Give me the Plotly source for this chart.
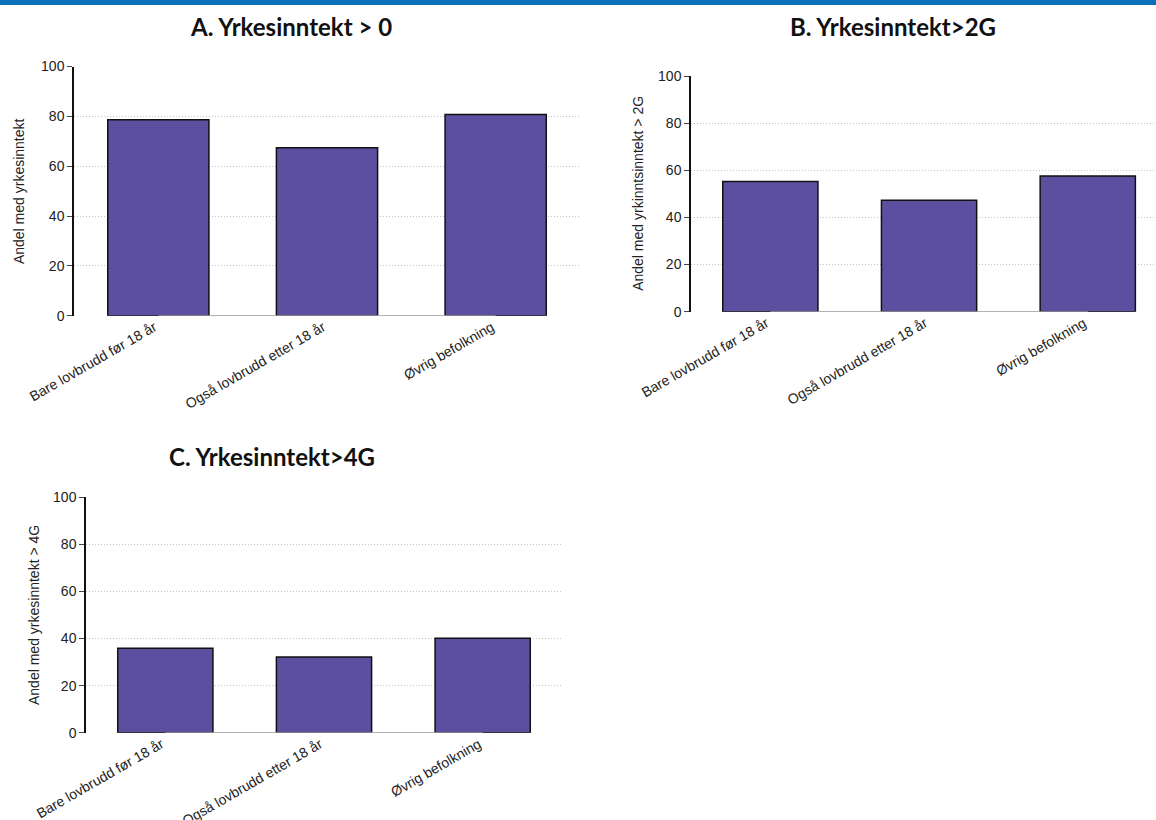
import plotly.graph_objects as go

categories = ["Bare lovbrudd før 18 år", "Også lovbrudd etter 18 år", "Øvrig befolkning"]
values_a = [78.6, 67.4, 80.7]
values_b = [55.2, 47.3, 57.6]
values_c = [35.9, 32.2, 40.1]
titles = ["A. Yrkesinntekt > 0", "B. Yrkesinntekt>2G", "C. Yrkesinntekt>4G"]
ytitles = ["Andel med yrkesinntekt", "Andel med yrkinntsinntekt > 2G", "Andel med yrkesinntekt > 4G"]
yticks = [0, 20, 40, 60, 80, 100]

W, H = 1156, 820
BAR = "#5c4f9f"
TICKFONT = dict(family="Liberation Sans, Arial, sans-serif", size=14, color="#222")
XTICKFONT = dict(family="Liberation Sans, Arial, sans-serif", size=14, color="#222")

def px2x(px):
    return px / W

def px2y(py):
    return 1 - py / H

panels = [
    # (values, xdomain px, ydomain px (top,bottom), xrange end, title center px, title y px, ytitle x px)
    (values_a, (74, 580), (66.5, 315.7), 2.5, 291, 26, 19),
    (values_b, (691, 1156), (76, 311.7), 2.43, 893, 26, 638),
    (values_c, (86, 562), (497.3, 732.7), 2.5, 272, 456, 34),
]

fig = go.Figure()
shapes = []
annotations = []
for i, (vals, (xl, xr), (yt, yb), xend, tcx, ty, ytx) in enumerate(panels):
    n = "" if i == 0 else str(i + 1)
    fig.add_trace(go.Bar(
        x=categories, y=vals, xaxis="x" + n, yaxis="y" + n,
        marker=dict(color=BAR, line=dict(color="#111", width=1.5)),
        width=0.6, showlegend=False, hoverinfo="x+y",
    ))
    fig.update_layout(**{
        "xaxis" + n: dict(
            domain=[px2x(xl), px2x(xr)], anchor="y" + n, range=[-0.5, xend],
            showgrid=False, showline=False, zeroline=False, ticks="",
            tickangle=-30, tickfont=XTICKFONT, fixedrange=True, automargin=False,
            ticklabelshift=-4,
        ),
        "yaxis" + n: dict(
            domain=[px2y(yb), px2y(yt)], anchor="x" + n, range=[0, 100],
            tickvals=yticks, showgrid=True, gridcolor="#c4c4c4", griddash="1px,2px", gridwidth=1,
            showline=True, linecolor="#111", linewidth=1.5, ticks="outside", ticklen=5,
            tickcolor="#444", tickfont=TICKFONT, zeroline=False, fixedrange=True, automargin=False,
        ),
    })
    # grey baseline between first and last category centres
    shapes.append(dict(type="line", xref="x" + n, yref="y" + n, x0=0, x1=2, y0=0, y1=0,
                       line=dict(color="#999", width=1.5), layer="above"))
    annotations.append(dict(text="<b>" + titles[i] + "</b>", x=px2x(tcx), y=px2y(ty), xref="paper", yref="paper",
                            showarrow=False, xanchor="center", yanchor="middle",
                            font=dict(family="Lato, Open Sans, sans-serif", size=24, color="#111")))
    annotations.append(dict(text=ytitles[i], x=px2x(ytx), y=px2y((yt + yb) / 2), xref="paper", yref="paper",
                            showarrow=False, xanchor="center", yanchor="middle", textangle=-90,
                            font=dict(family="Liberation Sans, Arial, sans-serif", size=14, color="#222")))

shapes.append(dict(type="rect", xref="paper", yref="paper", x0=0, x1=1, y0=px2y(5), y1=1,
                   fillcolor="#0a70b8", line=dict(width=0)))

fig.update_layout(
    width=W, height=H, margin=dict(l=0, r=0, t=0, b=0, autoexpand=False),
    paper_bgcolor="white", plot_bgcolor="white",
    shapes=shapes, annotations=annotations, bargap=0.4,
)

fig.write_html("out.html", config={"displayModeBar": False},
               post_script="document.body.style.margin='0px';document.body.style.overflow='hidden';")
